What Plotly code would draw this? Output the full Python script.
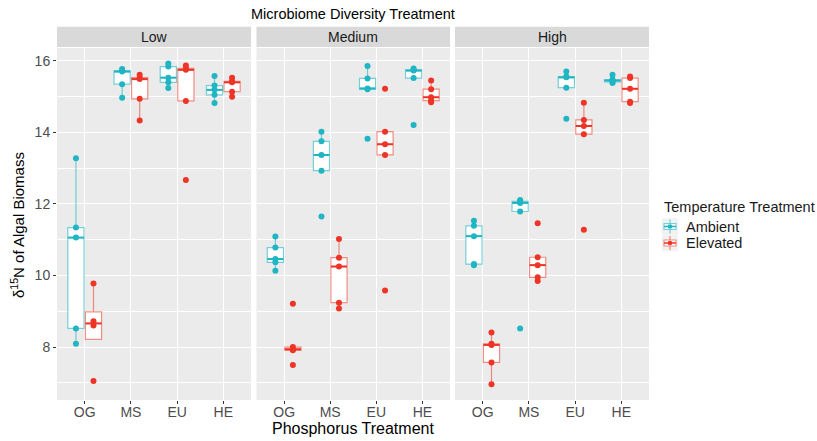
import numpy as np
import plotly.graph_objects as go

# ---------------- data ----------------
categories = ["OG", "MS", "EU", "HE"]
panels = ["Low", "Medium", "High"]
series_names = ["Ambient", "Elevated"]

low_ambient = [
    [8.09, 8.52, 11.06, 11.34, 13.28],
    [14.97, 15.35, 15.70, 15.73, 15.77],
    [15.24, 15.40, 15.53, 15.84, 15.93],
    [14.82, 15.05, 15.19, 15.31, 15.58],
]
low_elevated = [
    [7.05, 8.60, 8.72, 9.78],
    [14.33, 14.94, 15.49, 15.53, 15.61],
    [12.67, 14.88, 15.75, 15.79, 15.87],
    [15.00, 15.14, 15.40, 15.43, 15.53],
]
medium_ambient = [
    [10.13, 10.37, 10.46, 10.78, 11.09],
    [11.65, 12.93, 13.37, 13.75, 14.02],
    [13.82, 15.21, 15.23, 15.51, 15.86],
    [14.21, 15.52, 15.73, 15.75, 15.79],
]
medium_elevated = [
    [7.50, 7.91, 7.94, 8.00, 9.21],
    [9.08, 9.24, 10.25, 10.50, 11.02],
    [9.58, 13.37, 13.67, 14.02, 15.22],
    [14.84, 14.89, 14.98, 15.21, 15.45],
]
high_ambient = [
    [10.29, 10.32, 11.10, 11.39, 11.53],
    [8.52, 11.79, 12.03, 12.07, 12.11],
    [14.38, 15.25, 15.54, 15.56, 15.70],
    [15.38, 15.41, 15.45, 15.48, 15.61],
]
high_elevated = [
    [6.96, 7.57, 8.06, 8.09, 8.41],
    [9.85, 9.95, 10.29, 10.51, 11.46],
    [11.28, 13.95, 14.18, 14.35, 14.83],
    [14.82, 14.86, 15.22, 15.52, 15.56],
]
y_ticks = [8, 10, 12, 14, 16]

panel_data = {
    "Low": (low_ambient, low_elevated),
    "Medium": (medium_ambient, medium_elevated),
    "High": (high_ambient, high_elevated),
}

# ---------------- style ----------------
FONT = "Liberation Sans, Arial, sans-serif"
COLORS = {"Ambient": "#1FB5C3", "Elevated": "#EE3426"}
BOX_LINE = {"Ambient": "rgba(31,181,195,0.6)", "Elevated": "rgba(238,52,38,0.55)"}
OFFSET = {"Ambient": -0.19, "Elevated": 0.19}
BOX_W = 0.35

L, R, T, B = 57, 168, 48, 41
W, H = 817, 441
pw = W - L - R
ph = H - T - B


def px_x(x):
    return (x - L) / pw


def px_y(y):
    return (H - B - y) / ph


fig = go.Figure()


def stats(vals):
    v = np.sort(np.asarray(vals, dtype=float))
    q1, med, q3 = np.percentile(v, [25, 50, 75])
    iqr = q3 - q1
    lo = v[v >= q1 - 1.5 * iqr].min()
    hi = v[v <= q3 + 1.5 * iqr].max()
    return q1, med, q3, lo, hi


axis_ids = ["", "2", "3"]
for pi, pname in enumerate(panels):
    xa = "x" + axis_ids[pi]
    ya = "y" + axis_ids[pi]
    for si, sname in enumerate(series_names):
        groups = panel_data[pname][si]
        xs, q1s, meds, q3s, los, his = [], [], [], [], [], []
        mx, my = [], []
        for ci, vals in enumerate(groups):
            q1, med, q3, lo, hi = stats(vals)
            xc = ci + 1 + OFFSET[sname]
            xs.append(xc)
            q1s.append(q1); meds.append(med); q3s.append(q3)
            los.append(lo); his.append(hi)
            mx += [xc - BOX_W / 2, xc + BOX_W / 2, None]
            my += [med, med, None]
        fig.add_trace(go.Box(
            x=xs, q1=q1s, median=meds, q3=q3s, lowerfence=los, upperfence=his,
            width=BOX_W, whiskerwidth=0, boxpoints=False,
            fillcolor="white", line=dict(color=BOX_LINE[sname], width=1.2),
            name=sname, legendgroup=sname, showlegend=False,
            xaxis=xa, yaxis=ya, hoverinfo="skip",
        ))
        fig.add_trace(go.Scatter(
            x=mx, y=my, mode="lines", line=dict(color=COLORS[sname], width=2),
            showlegend=False, xaxis=xa, yaxis=ya, hoverinfo="skip",
        ))
        px, py = [], []
        for ci, vals in enumerate(groups):
            for v in vals:
                px.append(ci + 1 + OFFSET[sname])
                py.append(v)
        fig.add_trace(go.Scatter(
            x=px, y=py, mode="markers",
            marker=dict(color=COLORS[sname], size=6),
            showlegend=False, name=sname,
            xaxis=xa, yaxis=ya, hoverinfo="skip",
        ))

domains = [
    [0.0, 194.0 / pw],
    [px_x(256.5), px_x(450)],
    [px_x(455), 1.0],
]

xaxis_common = dict(
    range=[0.4, 4.6], tickvals=[1, 2, 3, 4], ticktext=categories,
    showgrid=True, gridcolor="white", gridwidth=1.1, zeroline=False,
    ticks="outside", ticklen=3, tickcolor="#333333", tickwidth=1,
    ticklabelstandoff=-4,
    tickfont=dict(family=FONT, size=14, color="#4D4D4D"),
    showline=False, fixedrange=True,
)
yaxis_common = dict(
    range=[6.52, 16.36], tickvals=y_ticks, showgrid=True, gridcolor="white",
    gridwidth=1.1, zeroline=False,
    minor=dict(dtick=1, tick0=0, gridcolor="white", gridwidth=0.5, showgrid=True),
    showline=False,
)

layout = dict(
    width=W, height=H, margin=dict(l=L, r=R, t=T, b=B),
    paper_bgcolor="white", plot_bgcolor="#EBEBEB", boxmode="overlay",
    font=dict(family=FONT, color="#1A1A1A"), showlegend=False,
)
for i, ax in enumerate(axis_ids):
    layout["xaxis" + ax] = dict(xaxis_common, domain=domains[i], anchor="y" + ax)
    y = dict(yaxis_common, domain=[0, 1], anchor="x" + ax)
    if i == 0:
        y.update(ticks="outside", ticklen=3, tickcolor="#333333",
                 tickfont=dict(family=FONT, size=14, color="#4D4D4D"))
    else:
        y.update(matches="y", showticklabels=False, ticks="")
    layout["yaxis" + ax] = y
fig.update_layout(**layout)

shapes = []
annotations = []
strip_top, strip_bot = 26.7, 47.0
for i, pname in enumerate(panels):
    d = domains[i]
    shapes.append(dict(type="rect", xref="paper", yref="paper",
                       x0=d[0], x1=d[1], y0=px_y(strip_bot), y1=px_y(strip_top),
                       fillcolor="#D9D9D9", line=dict(width=0), layer="below"))
    annotations.append(dict(text=pname, xref="paper", yref="paper",
                            x=(d[0] + d[1]) / 2, y=px_y((strip_top + strip_bot) / 2 + 0.5),
                            showarrow=False, xanchor="center", yanchor="middle",
                            font=dict(family=FONT, size=14, color="#1A1A1A")))

annotations.append(dict(text="Microbiome Diversity Treatment", xref="paper", yref="paper",
                        x=0.5, y=px_y(14.5), showarrow=False,
                        xanchor="center", yanchor="middle",
                        font=dict(family=FONT, size=14.5, color="#000000")))
annotations.append(dict(text="Phosphorus Treatment", xref="paper", yref="paper",
                        x=0.5, y=px_y(428.5), showarrow=False,
                        xanchor="center", yanchor="middle",
                        font=dict(family=FONT, size=16, color="#000000")))
annotations.append(dict(text="\u03b4<sup>15</sup>N of Algal Biomass", xref="paper", yref="paper",
                        x=px_x(17), y=px_y(225), showarrow=False, textangle=-90,
                        xanchor="center", yanchor="middle",
                        font=dict(family=FONT, size=15, color="#000000")))

# ---------------- legend (drawn by hand to match ggplot key layout) ----------------
annotations.append(dict(text="Temperature Treatment", xref="paper", yref="paper",
                        x=px_x(662.5), y=px_y(207), showarrow=False,
                        xanchor="left", yanchor="middle",
                        font=dict(family=FONT, size=14.5, color="#1A1A1A")))
key_centers = {"Ambient": 226.5, "Elevated": 243.0}
kx0, kx1 = 662.0, 678.0
for sname in series_names:
    cy = key_centers[sname]
    cx = (kx0 + kx1) / 2
    shapes.append(dict(type="rect", xref="paper", yref="paper",
                       x0=px_x(kx0), x1=px_x(kx1), y0=px_y(cy + 8.2), y1=px_y(cy - 8.2),
                       fillcolor="#F2F2F2", line=dict(width=0)))
    shapes.append(dict(type="line", xref="paper", yref="paper",
                       x0=px_x(cx), x1=px_x(cx), y0=px_y(cy + 7), y1=px_y(cy - 7),
                       line=dict(color=BOX_LINE[sname], width=1.2)))
    shapes.append(dict(type="rect", xref="paper", yref="paper",
                       x0=px_x(kx0 + 2), x1=px_x(kx1 - 2), y0=px_y(cy + 3), y1=px_y(cy - 3),
                       fillcolor="white", line=dict(color=BOX_LINE[sname], width=1.2)))
    shapes.append(dict(type="line", xref="paper", yref="paper",
                       x0=px_x(kx0 + 2), x1=px_x(kx1 - 2), y0=px_y(cy), y1=px_y(cy),
                       line=dict(color=COLORS[sname], width=1.5)))
    shapes.append(dict(type="circle", xref="paper", yref="paper",
                       x0=px_x(cx - 2.3), x1=px_x(cx + 2.3), y0=px_y(cy + 2.3), y1=px_y(cy - 2.3),
                       fillcolor=COLORS[sname], line=dict(width=0)))
    annotations.append(dict(text=sname, xref="paper", yref="paper",
                            x=px_x(684), y=px_y(cy), showarrow=False,
                            xanchor="left", yanchor="middle",
                            font=dict(family=FONT, size=14.5, color="#1A1A1A")))

fig.update_layout(shapes=shapes, annotations=annotations)

fig.write_html("out.html")
